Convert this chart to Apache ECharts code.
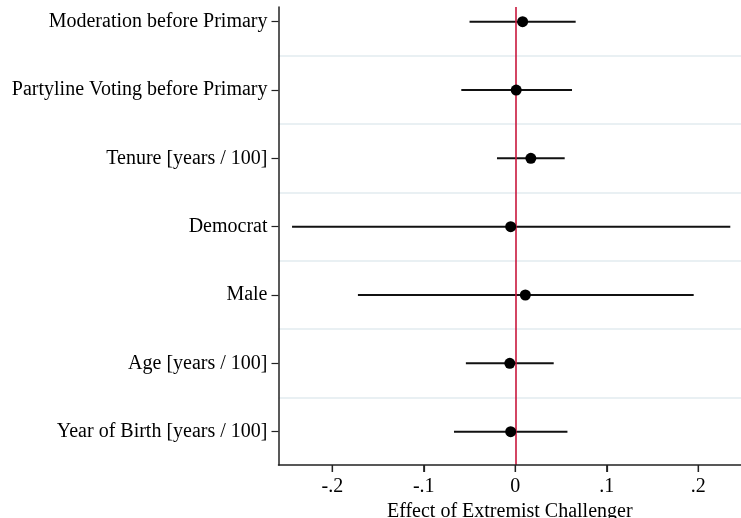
<!DOCTYPE html>
<html>
<head>
<meta charset="utf-8">
<script src="https://cdn.jsdelivr.net/npm/echarts@6/dist/echarts.min.js"></script>
<style>
html,body{margin:0;padding:0;background:#fff;}
#main{width:741px;height:518px;}
</style>
</head>
<body>
<div id="main"></div>
<script>
var categories = [
  "Moderation before Primary",
  "Partyline Voting before Primary",
  "Tenure [years / 100]",
  "Democrat",
  "Male",
  "Age [years / 100]",
  "Year of Birth [years / 100]"
];
var estimates = [0.008, 0.001, 0.017, -0.005, 0.011, -0.006, -0.005];
var ciLow  = [-0.050, -0.059, -0.020, -0.244, -0.172, -0.054, -0.067];
var ciHigh = [0.066, 0.062, 0.054, 0.235, 0.195, 0.042, 0.057];
var xTicks = [-0.2, -0.1, 0, 0.1, 0.2];
var xTickLabels = ["-.2", "-.1", "0", ".1", ".2"];
var axisTitle = "Effect of Extremist Challenger";

var rowPos = categories.map(function(c, i){ return i + 1; });
var gridPos = categories.slice(1).map(function(c, i){ return i + 1.5; });
var yMin = 0.785, yMax = 7.488;

var font = "Liberation Serif, Times New Roman, serif";
var chart = echarts.init(document.getElementById('main'), null, {renderer:'canvas'});

var option = {
  backgroundColor: '#ffffff',
  animation: false,
  grid: {left: 278.5, right: 0, top: 7, bottom: 53, containLabel: false, outerBoundsMode: 'none'},
  xAxis: {
    type: 'value',
    z: 10,
    min: -0.2588,
    max: 0.2467,
    name: axisTitle,
    nameLocation: 'middle',
    nameGap: 30,
    nameTextStyle: {fontFamily: font, fontSize: 20, color: '#000'},
    axisLine: {show: true, onZero: false, lineStyle: {color: '#222', width: 1.5}},
    axisTick: {show: true, inside: false, length: 7, customValues: xTicks, lineStyle: {color: '#222', width: 1.2}},
    axisLabel: {
      customValues: xTicks,
      margin: 12,
      fontFamily: font, fontSize: 20, color: '#000',
      formatter: function(v){
        var i = xTicks.findIndex(function(t){ return Math.abs(t - v) < 1e-9; });
        return i >= 0 ? xTickLabels[i] : '';
      }
    },
    splitLine: {show: false}
  },
  yAxis: {
    type: 'value',
    z: 10,
    inverse: true,
    min: yMin,
    max: yMax,
    axisLine: {show: true, onZero: false, lineStyle: {color: '#222', width: 1.5}},
    axisTick: {show: true, inside: false, length: 7, customValues: rowPos, lineStyle: {color: '#222', width: 1.2}},
    axisLabel: {
      customValues: rowPos,
      margin: 11,
      fontFamily: font, fontSize: 20, color: '#000',
      formatter: function(v){ return categories[Math.round(v) - 1] || ''; }
    },
    splitLine: {show: false}
  },
  series: [
    {
      type: 'custom',
      z: 2,
      data: categories.map(function(c, i){ return [ciLow[i], ciHigh[i], rowPos[i]]; }),
      renderItem: function(params, api){
        var p1 = api.coord([api.value(0), api.value(2)]);
        var p2 = api.coord([api.value(1), api.value(2)]);
        return {
          type: 'line',
          shape: {x1: p1[0], y1: p1[1], x2: p2[0], y2: p2[1]},
          style: {stroke: '#111', lineWidth: 2}
        };
      },
      markLine: {
        silent: true,
        symbol: ['none', 'none'],
        label: {show: false},
        lineStyle: {color: '#e9f0f3', width: 2, type: 'solid'},
        data: gridPos.map(function(v){ return {yAxis: v}; }),
        z: 1
      }
    },
    {
      type: 'scatter',
      z: 6,
      clip: false,
      silent: true,
      symbol: 'rect',
      symbolSize: [1.3, 7],
      symbolOffset: [0, 3.5],
      itemStyle: {color: '#222', opacity: 1},
      data: xTicks.map(function(v){ return [v, yMax]; })
    },
    {
      type: 'scatter',
      z: 4,
      symbol: 'circle',
      symbolSize: 11,
      itemStyle: {color: '#000', opacity: 1},
      data: categories.map(function(c, i){ return [estimates[i], rowPos[i]]; }),
      markLine: {
        silent: true,
        symbol: ['none', 'none'],
        label: {show: false},
        lineStyle: {color: '#c8173d', width: 1.6, type: 'solid'},
        data: [{xAxis: 0}],
        z: 3
      }
    }
  ]
};
chart.setOption(option);
</script>
</body>
</html>
